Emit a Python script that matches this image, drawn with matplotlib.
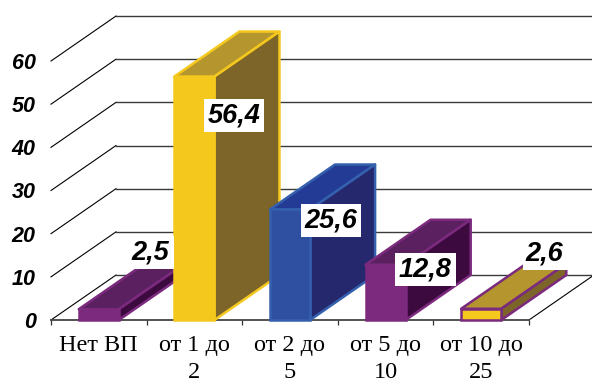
import matplotlib
matplotlib.use('Agg')
import matplotlib.pyplot as plt
from matplotlib.patches import Polygon, Rectangle

categories = ['Нет ВП', 'от 1 до\n2', 'от 2 до\n5', 'от 5 до\n10', 'от 10 до\n25']
values = [2.5, 56.4, 25.6, 12.8, 2.6]
value_labels = ['2,5', '56,4', '25,6', '12,8', '2,6']
y_ticks = [0, 10, 20, 30, 40, 50, 60]

# where each value box sits, in axis units
label_x = [1.046, 1.914, 2.93, 3.917, 5.173]
label_y = [15.6, 47.4, 23.05, 11.7, 15.4]
label_w = [0.48, 0.63, 0.63, 0.63, 0.47]
label_h = 7.64

front_col = ['#7b2a7e', '#f5c81e', '#2f4fa0', '#7b2a7e', '#f5c81e']
top_col = ['#5a2060', '#b5962e', '#233b94', '#5a2060', '#b5962e']
side_col = ['#3d0a40', '#7d6428', '#26286e', '#3d0a40', '#7d6428']
edge_col = ['#7b2a7e', '#f5c81e', '#3560ae', '#7b2a7e', '#7b2a7e']

# depth of the fake 3d box, in axis units
dx = 0.68
dy = 10.42
bar_w = 0.42

fig = plt.figure(figsize=(5.92, 3.83), dpi=100)
ax = fig.add_axes([51 / 592, 63 / 383, 478 / 592, 259 / 383])
ax.patch.set_visible(False)
ax.set_xlim(0, 5)
ax.set_ylim(0, 60)

for s in ['top', 'left', 'right']:
    ax.spines[s].set_visible(False)
ax.spines['bottom'].set_color('#444444')
ax.spines['bottom'].set_linewidth(1.3)

ax.set_yticks(y_ticks)
ax.set_yticklabels([str(t) for t in y_ticks], family='Liberation Sans',
                   weight='bold', style='italic', fontsize=15.5)
ax.tick_params(axis='y', length=0, pad=11)

ax.set_xticks(range(6))
ax.set_xticklabels([])
ax.tick_params(axis='x', which='major', length=3.8, width=0.9, color='#333333')
ax.set_xticks([i + 0.5 for i in range(5)], minor=True)
ax.set_xticklabels(categories, minor=True, family='Liberation Serif',
                   fontsize=17.5, linespacing=1.42)
ax.tick_params(axis='x', which='minor', length=0, pad=10.5)

# floor and back wall
for t in y_ticks:
    ax.plot([0, dx], [t, t + dy], color='black', lw=0.8, clip_on=False, zorder=1)
    ax.plot([dx, 5 + dx], [t + dy, t + dy], color='#3a3a3a', lw=1.0,
            clip_on=False, zorder=1)
ax.plot([5, 5 + dx], [0, dy], color='black', lw=0.8, clip_on=False, zorder=1)

for i, v in enumerate(values):
    l = i + 0.5 - bar_w / 2
    r = l + bar_w
    z = 3 + i
    ax.add_patch(Polygon([(l, v), (r, v), (r + dx, v + dy), (l + dx, v + dy)],
                         fc=top_col[i], ec=edge_col[i], lw=1.8, clip_on=False,
                         joinstyle='round', zorder=z))
    ax.add_patch(Polygon([(r, 0), (r + dx, dy), (r + dx, v + dy), (r, v)],
                         fc=side_col[i], ec=edge_col[i], lw=1.8, clip_on=False,
                         joinstyle='round', zorder=z))
    ax.bar(i + 0.5, v, bar_w, color=front_col[i], edgecolor=edge_col[i],
           lw=1.8, clip_on=False, zorder=z)

for x, y, w, txt, tx in zip(label_x, label_y, label_w, value_labels,
                            [1.036, 1.914, 2.93, 3.917, 5.157]):
    ax.add_patch(Rectangle((x - w / 2, y - label_h / 2), w, label_h, fc='white',
                           ec='none', clip_on=False, zorder=10))
    ax.text(tx, y, txt, ha='center', va='center', family='Liberation Sans',
            weight='bold', style='italic', fontsize=19.5, color='black',
            clip_on=False, zorder=11)

fig.savefig('out.png', dpi=100)
